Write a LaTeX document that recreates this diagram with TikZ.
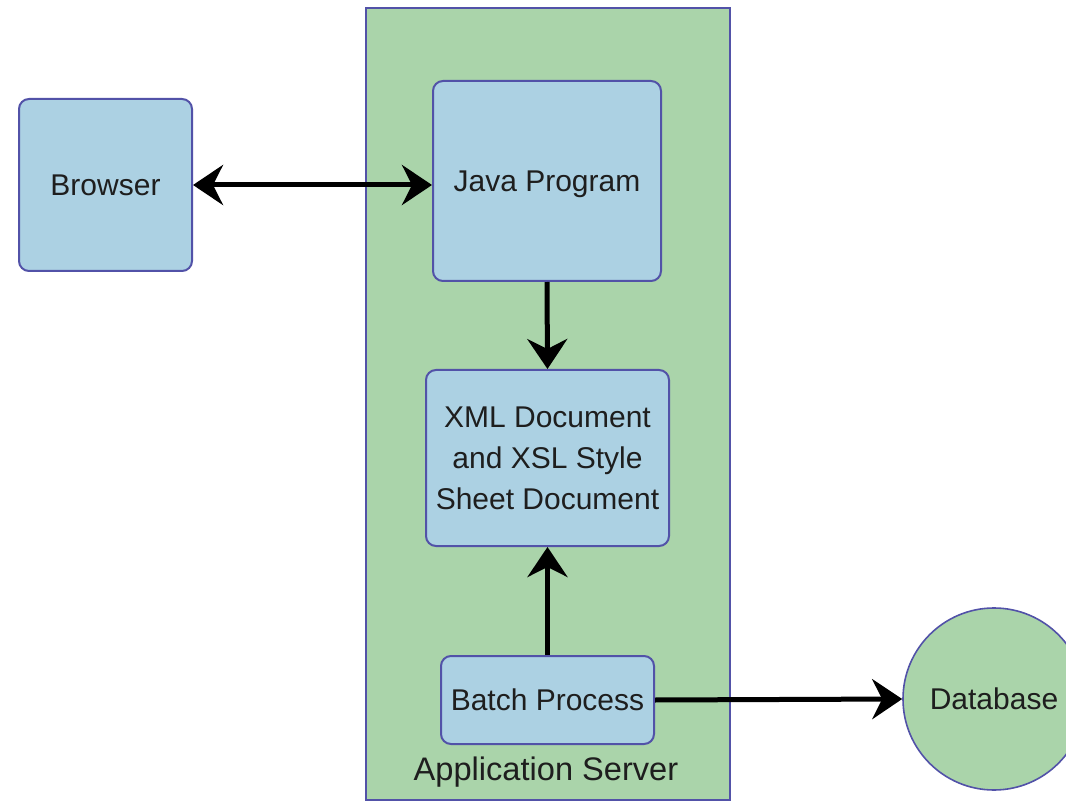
\documentclass[tikz,border=0pt]{standalone}
\usepackage{fontspec}
\setmainfont{Liberation Sans}
\usetikzlibrary{arrows.meta}
\definecolor{boxblue}{RGB}{172,209,227}
\definecolor{srvgreen}{RGB}{170,212,170}
\definecolor{edgeblue}{RGB}{82,82,168}
\definecolor{txt}{RGB}{30,30,30}
\begin{document}
\begin{tikzpicture}[x=0.5pt,y=-0.5pt,
  every node/.style={font=\fontsize{15}{20.5}\selectfont, text=txt, inner sep=0pt},
  bluebox/.style={draw=edgeblue, line width=1pt, fill=boxblue, rounded corners=5pt, align=center, text depth=0pt},
  server/.style={draw=edgeblue, line width=1pt, fill=srvgreen, minimum width=182pt, minimum height=396pt},
  dbcircle/.style={draw=edgeblue, line width=0.8pt, fill=srvgreen, circle, minimum size=91pt, text depth=0pt},
  conn/.style={line width=2.5pt, black},
  tip/.style={-{Stealth[length=15pt,width=20pt,inset=5pt]}}
]
\useasboundingbox (0,0) rectangle (1066,802);
\begin{scope}
\clip (0,0) rectangle (1066,802);
\node[server] (srv) at (548,404) {};
\node[bluebox, minimum width=86.5pt, minimum height=86pt] (browser) at (105.5,185) {Browser};
\node[bluebox, minimum width=114pt, minimum height=100pt, text depth=-2pt] (java) at (547,181) {Java Program};
\node[bluebox, minimum width=121.5pt, minimum height=88pt, text depth=-5pt] (xml) at (547.5,458) {XML Document\\and XSL Style\\Sheet Document};
\node[bluebox, minimum width=106.5pt, minimum height=44pt] (batch) at (547.5,700) {Batch Process};
\node[dbcircle] (db) at (994,699) {Database};
\node[font=\fontsize{16.3}{20}\selectfont] (srvlabel) at (546,772) {Application Server};
\draw[conn, {Stealth[length=15pt,width=20pt,inset=5pt]}-{Stealth[length=15pt,width=20pt,inset=5pt]}] (browser.east) -- (browser.east -| java.west);
\draw[conn, tip] (java.south) -- (xml.north);
\draw[conn, tip] (batch.north) -- (xml.south);
\draw[conn, tip] (batch.east) -- (db.west);
\end{scope}
\end{tikzpicture}
\end{document}
